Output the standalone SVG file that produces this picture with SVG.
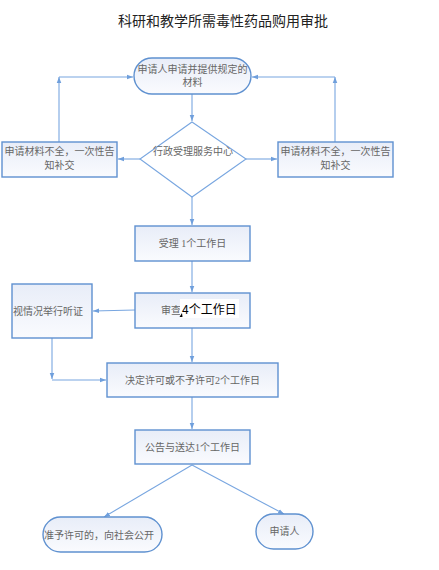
<svg xmlns="http://www.w3.org/2000/svg" width="439" height="570" viewBox="0 0 439 570">
<defs>
<linearGradient id="g" x1="0" y1="0" x2="0" y2="1">
<stop offset="0" stop-color="#e8edf8"/>
<stop offset="1" stop-color="#fafbfe"/>
</linearGradient>
<marker id="a" viewBox="0 0 8 8" refX="8" refY="4" markerWidth="6" markerHeight="6" orient="auto" markerUnits="userSpaceOnUse">
<path d="M0,1 L8,4 L0,7 Z" fill="#6f9fdc"/>
</marker>
<style>
.n{fill:url(#g);stroke:#5f91d0;stroke-width:1.4}
.c{fill:none;stroke:#78a6e0;stroke-width:1.1;marker-end:url(#a)}
.t{font-family:"Liberation Serif","Noto Sans CJK SC",serif;font-size:10px;fill:#666;text-anchor:middle}
.h{font-family:"Noto Sans CJK SC",sans-serif;font-size:12px;fill:#000}
</style>
</defs>
<rect width="439" height="570" fill="#fff"/>
<text x="223" y="26" text-anchor="middle" style="font-family:'Noto Sans CJK SC',sans-serif;font-size:14px;fill:#222">科研和教学所需毒性药品购用审批</text>
<g id="connectors">
<line class="c" x1="192" y1="94" x2="192" y2="121"/>
<line class="c" x1="140" y1="159" x2="118" y2="159"/>
<line class="c" x1="246" y1="159" x2="277" y2="159"/>
<line class="c" x1="59" y1="142" x2="59" y2="77"/>
<polyline class="c" points="59,77 133,77"/>
<line class="c" x1="335" y1="142" x2="335" y2="77"/>
<polyline class="c" points="335,77 252,77"/>
<line class="c" x1="192" y1="197" x2="192" y2="225"/>
<line class="c" x1="192" y1="261" x2="192" y2="292"/>
<line class="c" x1="135" y1="310" x2="93" y2="311"/>
<line class="c" x1="52" y1="338" x2="52" y2="379"/>
<line class="c" x1="52" y1="380" x2="106" y2="380"/>
<line class="c" x1="192" y1="328" x2="192" y2="362"/>
<line class="c" x1="192" y1="397" x2="192" y2="429"/>
<line class="c" x1="192" y1="465" x2="104" y2="517"/>
<line class="c" x1="192" y1="465" x2="284" y2="514"/>
</g>
<g id="n1">
<rect class="n" x="134" y="58" width="117" height="36" rx="18" ry="18"/>
<text class="t" x="192.5" y="73">申请人申请并提供规定的</text>
<text class="t" x="192.5" y="86">材料</text>
</g>
<g id="n2">
<polygon points="192,122 246,159 192,197 140,159" fill="#fff" stroke="#78a6e0" stroke-width="1.1"/>
<text class="t" x="193" y="155">行政受理服务中心</text>
</g>
<g id="n3">
<rect class="n" x="2" y="142" width="115" height="35"/>
<text class="t" x="59.5" y="155">申请材料不全，一次性告</text>
<text class="t" x="59.5" y="169">知补交</text>
</g>
<g id="n4">
<rect class="n" x="278" y="142" width="115" height="35"/>
<text class="t" x="335.5" y="155">申请材料不全，一次性告</text>
<text class="t" x="335.5" y="169">知补交</text>
</g>
<g id="n5">
<rect class="n" x="135" y="226" width="115" height="35"/>
<text class="t" x="192.5" y="247">受理 1个工作日</text>
</g>
<g id="n6">
<rect class="n" x="135" y="293" width="115" height="35"/>
<text class="t" x="171" y="314">审查</text>
<rect x="180" y="299" width="59" height="19" fill="#fff"/>
<path d="M179.5,317 L182,313 L182.5,317 Z" fill="#000"/>
<text class="h" x="182" y="314">4个工作日</text>
</g>
<g id="n7">
<rect class="n" x="12" y="284" width="80" height="54"/>
<text class="t" x="48" y="315">视情况举行听证</text>
</g>
<g id="n8">
<rect class="n" x="107" y="363" width="171" height="34"/>
<text class="t" x="192.5" y="384">决定许可或不予许可2个工作日</text>
</g>
<g id="n9">
<rect class="n" x="135" y="430" width="115" height="34"/>
<text class="t" x="192.5" y="451">公告与送达1个工作日</text>
</g>
<g id="n10">
<rect class="n" x="43" y="517" width="119" height="35" rx="17.5" ry="17.5"/>
<text class="t" x="99" y="539">准予许可的，向社会公开</text>
</g>
<g id="n11">
<rect class="n" x="256" y="514" width="57" height="35" rx="17.5" ry="17.5"/>
<text class="t" x="284.5" y="535">申请人</text>
</g>
</svg>
